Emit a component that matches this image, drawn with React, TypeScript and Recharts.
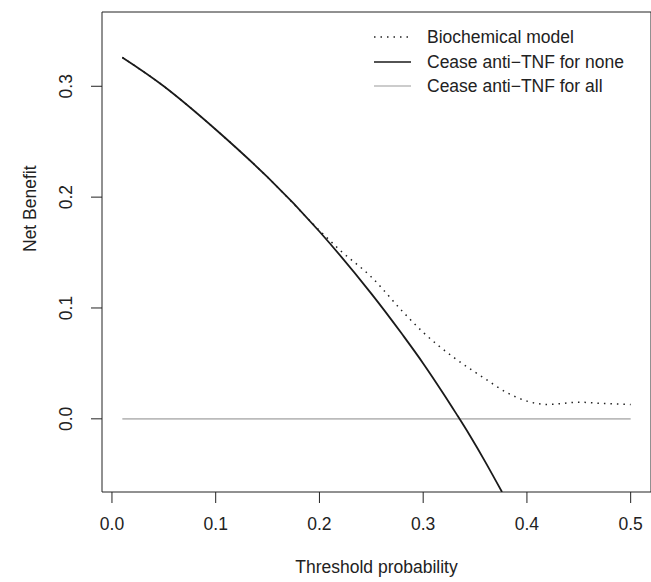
import { ComposedChart, Line, XAxis, YAxis, ReferenceArea } from "recharts";

// threshold probabilities and net benefit
const noneT = [0.01, 0.05, 0.1, 0.15, 0.2, 0.25, 0.28, 0.3, 0.32, 0.333, 0.345, 0.36, 0.376];
const noneNB = [0.326, 0.3, 0.261, 0.218, 0.169, 0.113, 0.076, 0.05, 0.022, 0.003, -0.015, -0.039, -0.066];

const modelT = [0.01, 0.05, 0.1, 0.15, 0.2, 0.22, 0.25, 0.28, 0.3, 0.33, 0.36, 0.38, 0.4, 0.42, 0.45, 0.47, 0.5];
const modelNB = [0.326, 0.3, 0.261, 0.218, 0.17, 0.152, 0.128, 0.097, 0.078, 0.055, 0.036, 0.024, 0.016, 0.013, 0.015, 0.014, 0.013];

const allT = [0.01, 0.5];
const allNB = [0, 0];

const xTicks = [0, 0.1, 0.2, 0.3, 0.4, 0.5];
const yTicks = [0, 0.1, 0.2, 0.3];

const X_DOMAIN: [number, number] = [-0.0096, 0.5196];
const Y_DOMAIN: [number, number] = [-0.066, 0.367];

const none = noneT.map((t, i) => ({ t, nb: noneNB[i] }));
const model = modelT.map((t, i) => ({ t, nb: modelNB[i] }));
const all = allT.map((t, i) => ({ t, nb: allNB[i] }));

const FONT = "'Liberation Sans', Arial, sans-serif";
const FS = 17.5;

function YTick(props: any) {
  const { x, y, payload } = props;
  const cx = x - 17;
  return (
    <text x={cx} y={y} transform={`rotate(-90 ${cx} ${y})`} textAnchor="middle"
      fontSize={FS} fontFamily={FONT} fill="#222">
      {payload.value.toFixed(1)}
    </text>
  );
}

function LegendRow({ y, dash, color, label }: { y: number; dash?: string; color: string; label: string }) {
  return (
    <g>
      <line x1={374} x2={411} y1={y} y2={y} stroke={color} strokeWidth={dash ? 1.5 : 1.6}
        strokeDasharray={dash} />
      <text x={427} y={y + 6} fontSize={FS} fontFamily={FONT} fill="#222">{label}</text>
    </g>
  );
}

export default function App() {
  return (
    <div style={{ position: "absolute", left: 0, top: 0, width: 651, height: 582, background: "#fff" }}>
      <ComposedChart width={651} height={582} margin={{ top: 12, right: 0, left: 0, bottom: 0 }}>
        <XAxis type="number" dataKey="t" domain={X_DOMAIN} ticks={xTicks} allowDataOverflow
          height={90} tickSize={11} tickLine={{ stroke: "#222" }} axisLine={false}
          tick={{ fontSize: FS, fontFamily: FONT, fill: "#222", dy: 13 }}
          tickFormatter={(v: number) => v.toFixed(1)}
          label={{ value: "Threshold probability", position: "insideBottom", offset: 9,
            fontSize: FS, fontFamily: FONT, fill: "#222" }} />
        <YAxis type="number" domain={Y_DOMAIN} ticks={yTicks} allowDataOverflow
          width={102} tickSize={11} tickLine={{ stroke: "#222" }} axisLine={false}
          tick={<YTick />}
          label={{ value: "Net Benefit", angle: -90, position: "insideLeft", offset: 30,
            fontSize: FS, fontFamily: FONT, fill: "#222" }} />
        <ReferenceArea x1={X_DOMAIN[0]} x2={X_DOMAIN[1]} y1={Y_DOMAIN[0]} y2={Y_DOMAIN[1]}
          fill="none" stroke="#222" strokeWidth={1} fillOpacity={0} ifOverflow="visible" />
        <Line data={all} dataKey="nb" type="linear" stroke="#bbbbbb" strokeWidth={1.6}
          dot={false} isAnimationActive={false} />
        <Line data={model} dataKey="nb" type="monotone" stroke="#222" strokeWidth={1.5}
          strokeDasharray="1.5 5" dot={false} isAnimationActive={false} />
        <Line data={none} dataKey="nb" type="natural" stroke="#1a1a1a" strokeWidth={1.8}
          dot={false} isAnimationActive={false} />
        <LegendRow y={37} dash="1.5 5" color="#222" label="Biochemical model" />
        <LegendRow y={62} color="#1a1a1a" label="Cease anti−TNF for none" />
        <LegendRow y={86} color="#bbbbbb" label="Cease anti−TNF for all" />
      </ComposedChart>
    </div>
  );
}
